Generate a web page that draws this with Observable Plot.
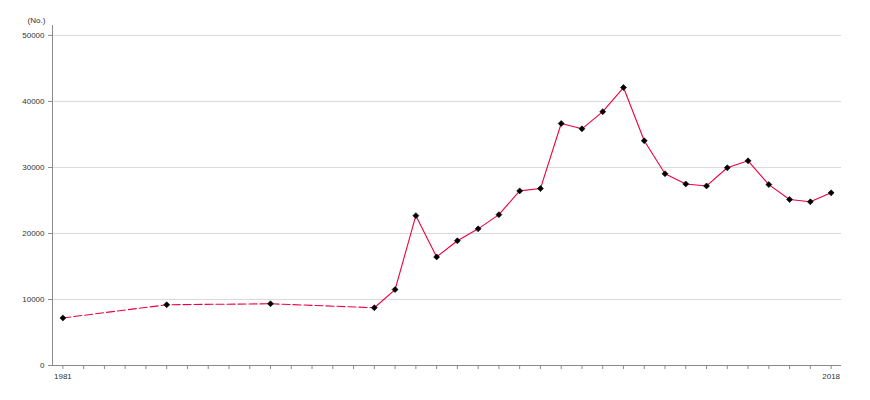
<!DOCTYPE html>
<html>
<head>
<meta charset="utf-8">
<script src="https://cdn.jsdelivr.net/npm/d3@7"></script>
<script src="https://cdn.jsdelivr.net/npm/@observablehq/plot@0.6"></script>
<style>
  html, body { margin: 0; padding: 0; background: #fff; }
</style>
</head>
<body>
<div id="chart"></div>
<script>
const years = [1981, 1986, 1991, 1996, 1997, 1998, 1999, 2000, 2001, 2002, 2003, 2004, 2005, 2006, 2007, 2008, 2009, 2010, 2011, 2012, 2013, 2014, 2015, 2016, 2017, 2018];
const values = [7200, 9200, 9350, 8750, 11500, 22700, 16450, 18900, 20700, 22850, 26450, 26800, 36650, 35850, 38450, 42100, 34050, 29050, 27500, 27200, 29950, 31000, 27400, 25150, 24800, 26150];
const dashedUntil = 1996;
const yTicks = [0, 10000, 20000, 30000, 40000, 50000];
const xTickLabels = [1981, 2018];
const unitLabel = "(No.)";

const data = years.map((y, i) => ({year: y, value: values[i]}));
const dashed = data.filter(d => d.year <= dashedUntil);
const solid = data.filter(d => d.year >= dashedUntil);
const allYears = d3.range(xTickLabels[0], xTickLabels[1] + 1);

const lineColor = "#ee0040";
const axisColor = "#8a8a8a";

const chart = Plot.plot({
  width: 870,
  height: 400,
  marginLeft: 52,
  marginRight: 29,
  marginTop: 25,
  marginBottom: 35,
  style: {fontFamily: "'Liberation Sans', Arial, sans-serif", fontSize: "8px", color: "#333", background: "#fff"},
  x: {domain: [1980.5, 2018.5]},
  y: {domain: [0, 51500]},
  marks: [
    Plot.gridY(yTicks.filter(t => t > 0), {stroke: "#d9d9d9", strokeOpacity: 1}),
    Plot.axisY({ticks: yTicks, tickSize: 4, tickPadding: 4, tickFormat: d3.format("d"), label: null, stroke: axisColor}),
    Plot.axisX({ticks: allYears, tickSize: 4, tickPadding: 4, tickFormat: d => xTickLabels.includes(d) ? String(d) : "", label: null, stroke: axisColor}),
    Plot.ruleX([1980.5], {stroke: axisColor, strokeWidth: 1}),
    Plot.ruleY([0], {stroke: axisColor, strokeWidth: 1}),
    Plot.line(dashed, {x: "year", y: "value", stroke: lineColor, strokeWidth: 1.1, strokeDasharray: "8,3"}),
    Plot.line(solid, {x: "year", y: "value", stroke: lineColor, strokeWidth: 1.1}),
    Plot.dot(data, {x: "year", y: "value", symbol: "diamond2", r: 2.7, fill: "#000", stroke: "#000", strokeWidth: 0.6}),
    Plot.text([unitLabel], {frameAnchor: "top-left", dx: -16, dy: -8, textAnchor: "middle", fill: "#333"})
  ]
});
document.getElementById("chart").append(chart);
</script>
</body>
</html>
